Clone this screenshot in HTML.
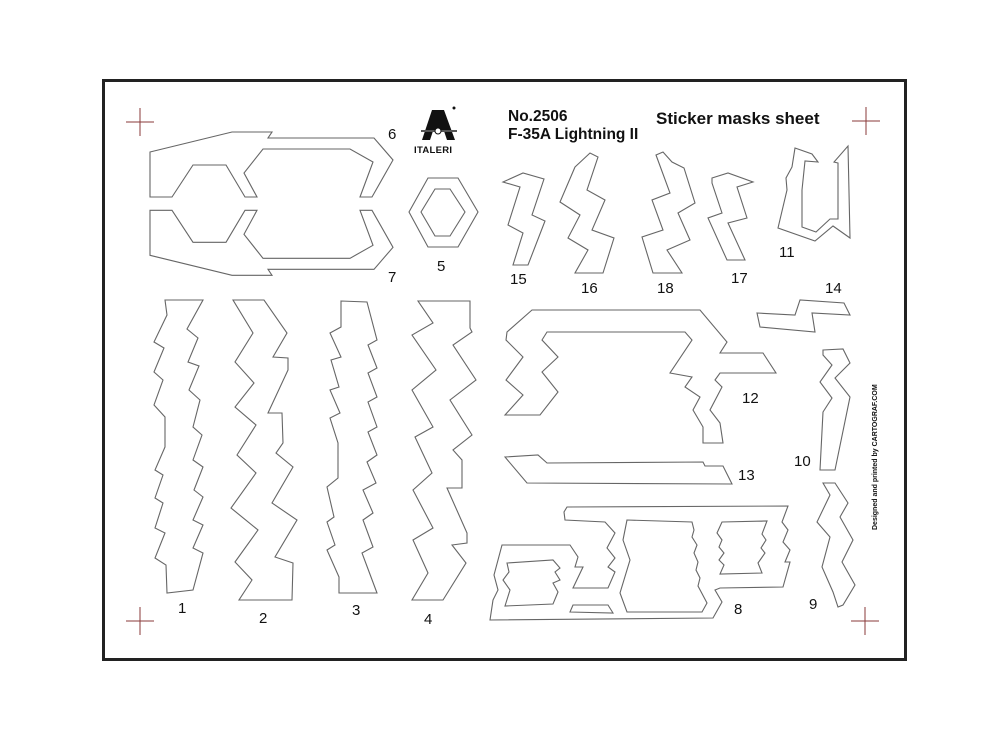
<!DOCTYPE html>
<html><head><meta charset="utf-8"><style>
body{margin:0;background:#fff}
svg{display:block}
text{font-family:"Liberation Sans",sans-serif;fill:#111}
</style></head><body>
<svg width="1000" height="751" viewBox="0 0 1000 751">
<rect x="103.5" y="80.5" width="802" height="579" fill="none" stroke="#222" stroke-width="3"/>
<g stroke="#8a3a3a" stroke-width="1">
<path d="M126 122H154M140 108V136"/><path d="M852 121H880M866 107V135"/>
<path d="M851 621H879M865 607V635"/><path d="M126 621H154M140 607V635"/>
</g>
<g fill="none" stroke="#666" stroke-width="1.1" stroke-linejoin="miter">
<polygon points="165,300 203,300 187,329 198,338 188,362 199,366 189,390 200,400 193,427 202,435 193,460 203,467 194,490 203,497 193,520 203,525 193,548 203,553 193,590 167,593 166,565 155,558 165,533 155,528 163,503 155,498 163,475 155,470 165,447 165,417 154,405 163,380 154,372 164,348 154,342 167,315"/>
<polygon points="233,300 264,300 287,333 273,357 288,358 288,370 268,413 282,413 283,443 276,453 293,467 272,503 297,520 275,557 293,563 292,600 239,600 252,580 235,562 258,530 231,508 256,473 237,455 256,425 235,407 254,383 235,362 253,333"/>
<polygon points="341,301 367,302 377,340 368,345 377,368 368,373 377,397 368,402 377,427 368,432 377,455 367,462 376,483 363,490 373,513 363,520 373,547 362,553 377,593 339,593 339,577 327,550 335,545 327,522 334,517 327,487 338,478 338,443 330,418 340,413 330,390 339,387 331,360 341,357 330,333 341,327"/>
<polygon points="418,301 470,301 470,328 472,332 453,345 476,380 450,400 472,435 453,450 462,460 462,488 447,488 467,533 467,543 452,545 466,563 443,600 412,600 428,573 413,540 433,528 413,490 432,473 415,437 433,427 412,390 436,370 412,335 433,323"/>
<polygon points="150,152 232,132 272,132 268,138 374,138 393,160 372,197 360,197 373,162 350,149 263,149 244,173 257,197 245,197 226,165 193,165 172,197 150,197"/>
<polygon points="150,255.3 232,275.3 272,275.3 268,269.3 374,269.3 393,247.3 372,210.3 360,210.3 373,245.3 350,258.3 263,258.3 244,234.3 257,210.3 245,210.3 226,242.3 193,242.3 172,210.3 150,210.3"/>
<polygon points="409,212 428,178 458,178 478,212 458,247 428,247"/>
<polygon points="421,212 435,189 450,189 465,212 450,236 435,236"/>
<polygon points="503,182 523,173 544,179 532,215 545,221 528,265 513,265 523,233 508,225 520,187"/>
<polygon points="575,167 590,153 598,157 587,190 605,200 592,230 614,238 603,273 575,273 588,250 568,238 580,215 560,202"/>
<polygon points="656,155 663,152 672,162 684,168 695,203 678,213 690,240 667,250 682,273 653,273 642,237 663,230 652,200 670,193"/>
<polygon points="712,178 728,173 753,182 737,187 747,218 728,223 745,260 727,260 708,218 722,213 712,183"/>
<polygon points="795,148 812,154 818,162 805,161 802,190 802,227 816,232 830,219 838,219 838,163 834,162 848,146 850,238 833,226 815,241 778,228 787,190 786,178 792,167"/>
<polygon points="757,313 795,315 800,300 844,303 850,315 812,313 815,332 760,327"/>
<polygon points="507,332 532,310 700,310 727,342 720,353 763,353 776,373 720,373 715,380 722,387 710,410 720,423 723,443 703,443 703,427 693,410 700,397 685,387 692,377 670,373 692,340 685,332 547,332 542,340 558,357 542,372 558,392 540,415 505,415 523,395 506,380 523,357 506,340"/>
<polygon points="505,457 538,455 547,463 703,462 705,466 723,466 732,484 527,483"/>
<polygon points="823,350 843,349 850,363 835,378 850,397 835,470 820,470 823,412 832,398 820,382 832,365 823,355"/>
<polygon points="823,483 835,483 848,503 840,517 853,540 842,562 855,585 843,605 838,607 833,592 822,567 830,537 817,522 830,495"/>
<polygon points="567,507 788,506 782,522 788,530 783,542 790,550 785,562 790,562 783,587 720,588 715,590 722,602 713,618 490,620 493,600 498,590 494,575 502,545 570,545 578,557 575,567 583,567 573,588 608,588 615,572 608,567 615,558 607,548 615,533 605,522 565,520 564,512"/>
<polygon points="507,563 553,560 560,568 555,572 560,580 553,583 558,592 553,604 505,606 510,590 503,580 509,572"/>
<polygon points="627,520 692,522 694,530 692,537 697,545 694,553 698,562 696,570 700,578 698,586 707,603 702,612 627,612 620,593 630,560 623,540"/>
<polygon points="722,522 767,521 762,534 766,540 761,548 765,553 758,563 762,573 720,574 724,565 719,560 724,553 719,547 722,540 717,533"/>
<polygon points="570,612 573,605 608,605 613,613"/>
</g>
<g font-size="15">
<text x="388" y="139">6</text><text x="388" y="282">7</text><text x="437" y="271">5</text>
<text x="510" y="284">15</text><text x="581" y="293">16</text><text x="657" y="293">18</text><text x="731" y="283">17</text>
<text x="779" y="257">11</text><text x="825" y="293">14</text><text x="742" y="403">12</text>
<text x="794" y="466">10</text><text x="738" y="480">13</text><text x="734" y="614">8</text><text x="809" y="609">9</text>
<text x="178" y="613">1</text><text x="259" y="623">2</text><text x="352" y="615">3</text><text x="424" y="624">4</text>
</g>
<text x="508" y="121" font-size="15.5" font-weight="bold">No.2506</text>
<text x="508" y="139" font-size="15.5" font-weight="bold">F-35A Lightning II</text>
<text x="656" y="124" font-size="17" font-weight="bold">Sticker masks sheet</text>
<g>
<polygon points="432,110 444,110 455,140 447,140 444,131 433,131 430,140 422,140" fill="#111"/>
<rect x="421" y="130" width="36" height="2" fill="#555"/>
<circle cx="438" cy="131" r="3" fill="#fff" stroke="#111"/>
<circle cx="454" cy="108" r="1.5" fill="#111"/>
<text x="414" y="153" font-size="9.5" font-weight="bold" letter-spacing="0.3">ITALERI</text>
</g>
<text transform="translate(877,530) rotate(-90)" font-size="7" font-weight="bold">Designed and printed by CARTOGRAF.COM</text>
</svg>
</body></html>
